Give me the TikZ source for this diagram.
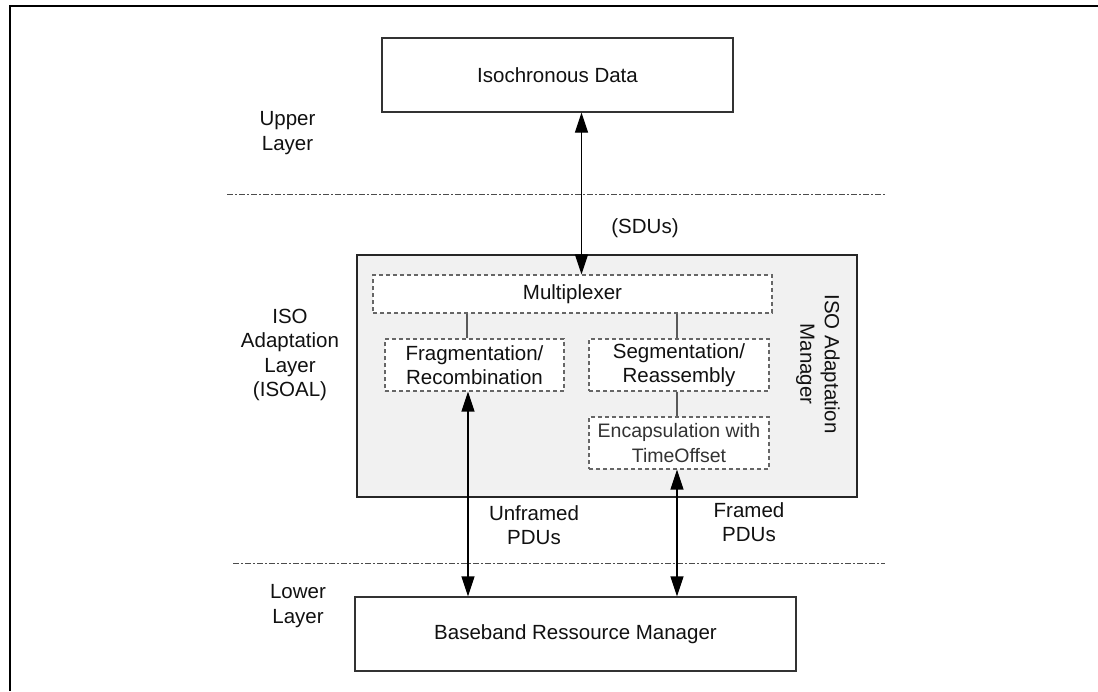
\documentclass[tikz,border=0pt]{standalone}
\usepackage{fontspec}
\setmainfont{Liberation Sans}
\usetikzlibrary{arrows.meta}
\definecolor{panel}{HTML}{F1F1F1}
\definecolor{txt}{HTML}{111111}
\begin{document}
\begin{tikzpicture}[x=1pt,y=-1pt,
  bigfont/.style={font=\fontsize{20.5}{24.5}\selectfont},
  lbl/.style={bigfont, align=center, inner sep=0, text=txt},
  solidbox/.style={draw=black!80, line width=1.2pt, fill=white, inner sep=0, bigfont, align=center, text=txt},
  dbox/.style={draw=black!60, dash pattern=on 4pt off 3pt, line width=1.1pt, fill=white, inner sep=0, align=center, bigfont, text=txt},
  layerline/.style={draw=black!70, line width=1pt, dash pattern=on 6pt off 2pt on 2pt off 2pt},
  biarrow/.style={line width=1.2pt, {Triangle[length=20pt,width=13pt]}-{Triangle[length=20pt,width=13pt]}},
  link/.style={draw=black!65, line width=1.1pt}]
\useasboundingbox (0,0) rectangle (1098,691);
\fill[white] (0,0) rectangle (1098,691);
% frame
\draw[line width=2pt] (10,691) -- (10,5.5) -- (1098,5.5);
% layer separators
\draw[layerline] (227,194) -- (885,194);
\draw[layerline] (233,563) -- (885,563);
% boxes
\node[solidbox, minimum width=351, minimum height=74] (iso) at (557.5,75) {Isochronous Data};
\node[draw=black!85, line width=1.2pt, fill=panel, minimum width=500, minimum height=242, inner sep=0] (isoal) at (607,376) {};
\node[dbox, minimum width=399, minimum height=38] (mux) at (572.5,294) {Multiplexer};
\node[dbox, minimum width=179, minimum height=52] (frag) at (474.5,365) {Fragmentation/\\Recombination};
\node[dbox, minimum width=180, minimum height=52] (seg) at (679,365) {Segmentation/\\Reassembly};
\node[dbox, minimum width=180, minimum height=52, font=\fontsize{19.5}{24.5}\selectfont, text=black!80] (enc) at (679,443) {Encapsulation with\\TimeOffset};
\node[solidbox, minimum width=441, minimum height=74] (bb) at (575.5,634) {Baseband Ressource Manager};
% labels
\node[lbl] (upper) at (287.5,133) {Upper\\Layer};
\node[lbl] (isoallbl) at (290,355) {ISO\\Adaptation\\Layer\\(ISOAL)};
\node[lbl] (lower) at (298,606) {Lower\\Layer};
\node[lbl] (sdus) at (645,228) {(SDUs)};
\node[lbl] (unfr) at (534,525) {Unframed\\PDUs};
\node[lbl] (fr) at (749,522) {Framed\\PDUs};
\node[lbl, rotate=-90] (mgr) at (818,364) {ISO Adaptation\\Manager};
% internal links
\draw[link] ([xshift=-7.5pt]frag.north |- mux.south) -- ([xshift=-7.5pt]frag.north);
\draw[link] ([xshift=-2pt]seg.north |- mux.south) -- ([xshift=-2pt]seg.north);
\draw[link] ([xshift=-2pt]seg.south) -- ([xshift=-2pt]enc.north);
% arrows
\draw[biarrow] ([xshift=24pt]iso.south) -- ([xshift=24pt]iso.south |- mux.north);
\draw[biarrow] ([xshift=-6.5pt]frag.south) -- ([xshift=-6.5pt]frag.south |- bb.north);
\draw[biarrow] ([xshift=-2pt]enc.south) -- ([xshift=-2pt]enc.south |- bb.north);
\end{tikzpicture}
\end{document}
